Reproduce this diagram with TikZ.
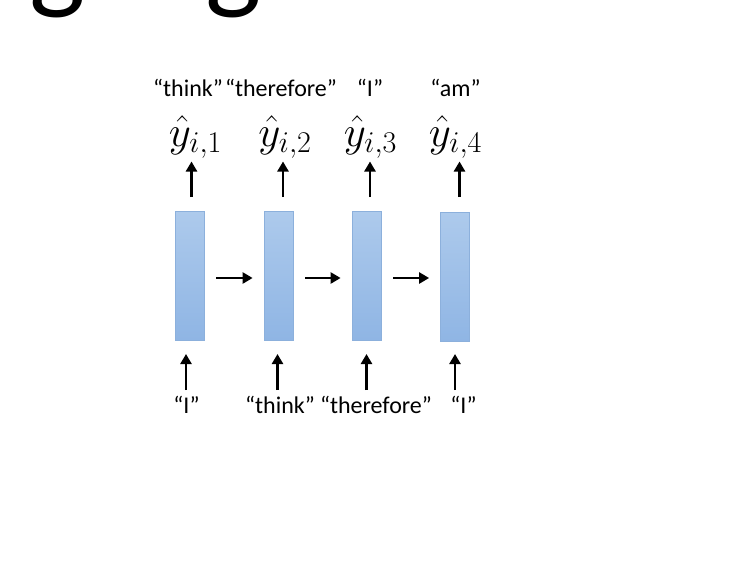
\RequirePackage{fix-cm}
\documentclass[tikz,border=0pt]{standalone}
\usepackage{fontspec}
\newfontfamily\calib{Carlito}
\usetikzlibrary{arrows.meta}
\definecolor{boxtop}{HTML}{ADCAEC}
\definecolor{boxbot}{HTML}{8FB5E4}
\definecolor{boxline}{HTML}{8CB0DC}
\tikzset{
  cell/.style={draw=boxline, line width=0.8pt, top color=boxtop, bottom color=boxbot,
    minimum width=29pt, minimum height=129pt, inner sep=0pt},
  arr/.style={line width=2.6pt, -{Triangle[length=10pt,width=11pt]}},
  word/.style={font=\calib\fontsize{24}{26}\selectfont, anchor=base, inner sep=0pt},
  yhat/.style={font=\fontsize{43}{46}\selectfont, anchor=base, inner sep=0pt},
}
\begin{document}
\begin{tikzpicture}[x=1pt,y=-1pt]
\useasboundingbox (0,0) rectangle (732,562);
\clip (0,0) rectangle (732,562);
\fill[white] (0,0) rectangle (732,562);
% cropped title
\node[anchor=base west, inner sep=0pt, font=\calib\fontsize{119}{120}\selectfont] (title) at (-140,-2) {Language Model};
% cells
\node[cell] (b1) at (189.5,275.5) {};
\node[cell] (b2) at (278.5,275.5) {};
\node[cell] (b3) at (366.5,275.5) {};
\node[cell] (b4) at (455,277) {};
% recurrent arrows
\draw[arr, shorten <=12pt, shorten >=11pt] (b1.east |- 0,278) coordinate (h1) -- (b2.west |- h1);
\draw[arr, shorten <=12pt, shorten >=11pt] (b2.east |- h1) -- (b3.west |- h1);
\draw[arr, shorten <=12pt, shorten >=11pt] (b3.east |- h1) -- (b4.west |- h1);
% outputs
\node[yhat] (y1) at (195.5,146) {$\hat{y}_{i,1}$};
\node[yhat] (y2) at (285,146) {$\hat{y}_{i,2}$};
\node[yhat] (y3) at (370.5,146) {$\hat{y}_{i,3}$};
\node[yhat] (y4) at (455.5,146) {$\hat{y}_{i,4}$};
\node[word] (o1) at (188,96) {“think”};
\node[word] (o2) at (281,96) {“therefore”};
\node[word] (o3) at (370,96) {“I”};
\node[word] (o4) at (455.5,96) {“am”};
\coordinate (t1) at (191.5,197);
\coordinate (t2) at (283,197);
\coordinate (t3) at (370,197);
\coordinate (t4) at (459.5,197);
\draw[arr] (t1) -- (t1 |- 0,161.5);
\draw[arr] (t2) -- (t2 |- 0,161.5);
\draw[arr] (t3) -- (t3 |- 0,161.5);
\draw[arr] (t4) -- (t4 |- 0,161.5);
% inputs
\node[word] (i1) at (186.5,413) {“I”};
\node[word] (i2) at (280,413) {“think”};
\node[word] (i3) at (376,413) {“therefore”};
\node[word] (i4) at (463.5,413) {“I”};
\coordinate (s1) at (186,390);
\coordinate (s2) at (277.5,390);
\coordinate (s3) at (366.5,390);
\coordinate (s4) at (455,390);
\draw[arr] (s1) -- (s1 |- 0,354);
\draw[arr] (s2) -- (s2 |- 0,354);
\draw[arr] (s3) -- (s3 |- 0,354);
\draw[arr] (s4) -- (s4 |- 0,354);
\end{tikzpicture}
\end{document}
